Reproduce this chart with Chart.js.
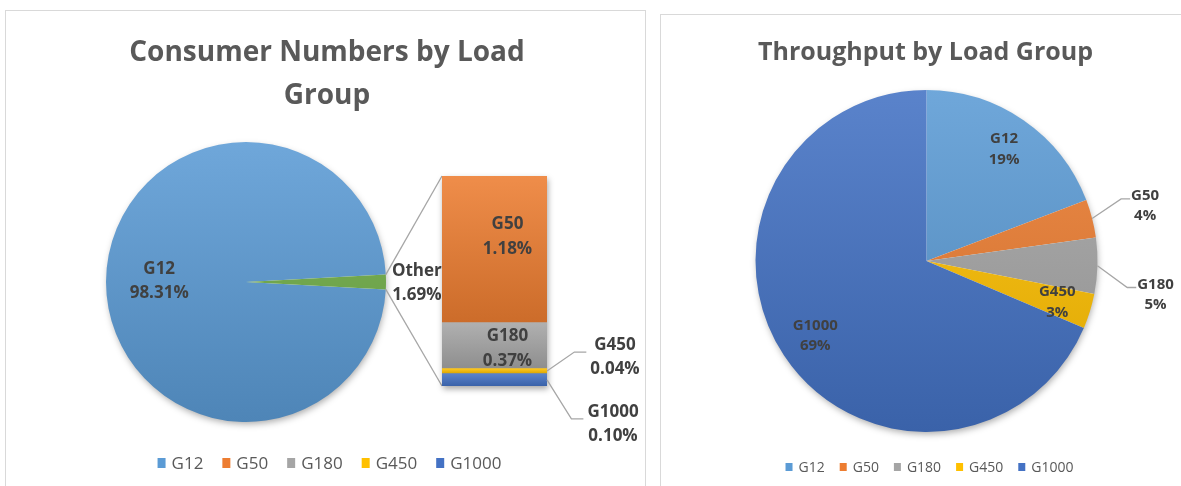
<!DOCTYPE html>
<html><head><meta charset="utf-8">
<script src="https://cdn.jsdelivr.net/npm/chart.js@4.4.1/dist/chart.umd.min.js"></script>
<style>
html,body{margin:0;padding:0;background:#fff;width:1181px;height:486px;overflow:hidden;position:relative;}
.panel{position:absolute;border:1px solid #d9d9d9;box-sizing:border-box;background:#fff;}
#leftPanel{left:5px;top:10px;width:641px;height:500px;}
#rightPanel{left:660px;top:14px;width:540px;height:500px;}
canvas{position:absolute;}
</style></head><body>
<div class="panel" id="leftPanel"></div>
<div class="panel" id="rightPanel"></div>
<canvas id="consumerPie" style="left:6px;top:11px" width="639" height="475"></canvas>
<canvas id="consumerBar" style="left:380px;top:150px" width="265" height="300"></canvas>
<canvas id="throughputPie" style="left:662px;top:16px" width="519" height="470"></canvas>
<script>
// ---------------- data ----------------
const loadGroups = ['G12', 'G50', 'G180', 'G450', 'G1000'];
const groupColors = ['#5B9BD5', '#ED7D31', '#A5A5A5', '#FFC000', '#4472C4'];
const otherLabel = 'Other';
const otherColor = '#70AD47';
const consumerShare = [98.31, 1.18, 0.37, 0.04, 0.10];   // % of consumers
const throughputShare = [19.2, 3.6, 5.3, 3.3, 68.6];     // % of throughput
const consumerTitle = ['Consumer Numbers by Load', 'Group'];
const throughputTitle = ['Throughput by Load Group'];

// ---------------- helpers ----------------
const FONT = '"Open Sans", "DejaVu Sans", sans-serif';
const LABEL_COLOR = '#404040';
const TITLE_COLOR = '#595959';
function shade(hex, amt) {
  const n = parseInt(hex.slice(1), 16);
  let r = n >> 16, g = (n >> 8) & 255, b = n & 255;
  if (amt >= 0) { r += (255 - r) * amt; g += (255 - g) * amt; b += (255 - b) * amt; }
  else { r *= 1 + amt; g *= 1 + amt; b *= 1 + amt; }
  return 'rgb(' + Math.round(r) + ',' + Math.round(g) + ',' + Math.round(b) + ')';
}
function vGrad(ctx, color, y0, y1) {
  const g = ctx.createLinearGradient(0, y0, 0, y1);
  g.addColorStop(0, shade(color, 0.12));
  g.addColorStop(1, shade(color, -0.14));
  return g;
}
function pieFill(c, color) {
  const ch = c.chart, a = ch.chartArea;
  if (!a) return color;
  const cy = (a.top + a.bottom) / 2, r = ch.options.radius;
  return vGrad(ch.ctx, color, cy - r, cy + r);
}
function drawLines(ctx, lines, cx, cy, size, lh, color) {
  ctx.save();
  ctx.font = 'bold ' + size + 'px ' + FONT;
  ctx.fillStyle = color; ctx.textAlign = 'center'; ctx.textBaseline = 'alphabetic';
  const cap = size * 0.714, n = lines.length;
  lines.forEach((t, i) => ctx.fillText(t, cx, cy + (i - (n - 1) / 2) * lh + cap / 2));
  ctx.restore();
}
function linesWidth(ctx, lines, size) {
  ctx.save(); ctx.font = 'bold ' + size + 'px ' + FONT;
  const w = Math.max(...lines.map(t => ctx.measureText(t).width));
  ctx.restore(); return w;
}
function leader(ctx, pts) {
  ctx.save(); ctx.strokeStyle = '#a6a6a6'; ctx.lineWidth = 1.3;
  ctx.beginPath(); ctx.moveTo(pts[0][0], pts[0][1]);
  for (let i = 1; i < pts.length; i++) ctx.lineTo(pts[i][0], pts[i][1]);
  ctx.stroke(); ctx.restore();
}
const pieShadow = {
  id: 'pieShadow',
  beforeDatasetsDraw(chart) {
    const arc = chart.getDatasetMeta(0).data[0]; const ctx = chart.ctx;
    ctx.save();
    ctx.shadowColor = 'rgba(0,0,0,0.35)'; ctx.shadowBlur = 7; ctx.shadowOffsetX = 1; ctx.shadowOffsetY = 3;
    ctx.beginPath(); ctx.arc(arc.x, arc.y, arc.outerRadius - 1, 0, Math.PI * 2);
    ctx.fillStyle = '#fff'; ctx.fill(); ctx.restore();
  }
};
function titlePlugin(lines, size, baseline, lh, dx) {
  return { id: 'ttl', afterDraw(chart) {
    const ctx = chart.ctx; ctx.save();
    ctx.font = 'bold ' + size + 'px ' + FONT; ctx.fillStyle = TITLE_COLOR;
    ctx.textAlign = 'center'; ctx.textBaseline = 'alphabetic';
    lines.forEach((t, i) => ctx.fillText(t, chart.width / 2 + dx, baseline + i * lh));
    ctx.restore();
  } };
}
function legendPlugin(names, colors, o) {
  return { id: 'lgd', afterDraw(chart) {
    const ctx = chart.ctx; ctx.save();
    ctx.font = o.size + 'px ' + FONT;
    const widths = names.map(t => ctx.measureText(t).width);
    const total = widths.reduce((s, w) => s + o.textOff + w, 0) + o.gap * (names.length - 1);
    let x = chart.width / 2 + o.dx - total / 2;
    ctx.textBaseline = 'alphabetic'; ctx.textAlign = 'left';
    names.forEach((t, i) => {
      ctx.fillStyle = colors[i];
      ctx.fillRect(x, o.y - o.bh / 2, o.bw, o.bh);
      ctx.fillStyle = TITLE_COLOR;
      ctx.fillText(t, x + o.textOff, o.y + o.size * 0.357);
      x += o.textOff + widths[i] + o.gap;
    });
    ctx.restore();
  } };
}
// place: {mode:'in'|'out'|'plain', r: radius factor, dx, dy}
function pieLabels(names, texts, places, size, lh) {
  return { id: 'plbl', afterDatasetsDraw(chart) {
    const ctx = chart.ctx;
    chart.getDatasetMeta(0).data.forEach((arc, i) => {
      const p = places[i], a = (arc.startAngle + arc.endAngle) / 2, R = arc.outerRadius;
      const cx = arc.x + Math.cos(a) * R * p.r + (p.dx || 0);
      const cy = arc.y + Math.sin(a) * R * p.r + (p.dy || 0);
      const lines = [names[i], texts[i]];
      if (p.mode === 'out') {
        const left = cx - linesWidth(ctx, lines, size) / 2;
        leader(ctx, [[arc.x + Math.cos(a) * R, arc.y + Math.sin(a) * R], [left - 10, cy - 6], [left - 1, cy - 6]]);
      }
      drawLines(ctx, lines, cx, cy, size, lh, LABEL_COLOR);
    });
  } };
}
const fmt2 = v => v.toFixed(2) + '%';
const fmt0 = v => Math.round(v) + '%';

// ---------------- left: pie of "Consumer Numbers" ----------------
const otherShares = consumerShare.slice(1);
const otherGroups = loadGroups.slice(1);
const otherColors = groupColors.slice(1);
const otherTotal = otherShares.reduce((s, v) => s + v, 0);
const pieMain = [consumerShare[0], otherTotal];
const pieMainNames = [loadGroups[0], otherLabel];
const pieMainColors = [groupColors[0], otherColor];
const pieSum = pieMain[0] + pieMain[1];
const leftRotation = 90 - (1 - (otherTotal / pieSum) / 2) * 360; // centre "Other" at 3 o'clock

const pieCanvas = document.getElementById('consumerPie');
const leftPie = new Chart(pieCanvas, {
  type: 'pie',
  data: { labels: pieMainNames, datasets: [{ data: pieMain, backgroundColor: c => pieFill(c, pieMainColors[c.dataIndex]), borderWidth: 0 }] },
  options: {
    responsive: false, animation: false, events: [], devicePixelRatio: 1,
    rotation: leftRotation, radius: 140,
    layout: { padding: { left: 100, right: 259, top: 131, bottom: 64 } },
    plugins: { legend: { display: false }, tooltip: { enabled: false }, title: { display: false } }
  },
  plugins: [pieShadow,
    pieLabels(pieMainNames, pieMain.map(fmt2), [{ mode: 'in', r: 0.62, dy: -2 }, { mode: 'plain', r: 1.22, dy: 0 }], 17, 23.5),
    titlePlugin(consumerTitle, 28, 49.5, 43, 1.5),
    legendPlugin(loadGroups, groupColors, { y: 452, size: 17, bw: 8, bh: 10, textOff: 14, gap: 19, dx: 4 })]
});

// ---------------- left: stacked bar breaking out "Other" ----------------
const stackOrder = otherGroups.map((g, i) => i).reverse(); // G1000 at bottom, G50 on top
const barPlaces = {
  G50: { mode: 'in', dx: 13, dy: -14 },
  G180: { mode: 'in', dx: 13, dy: 2 },
  G450: { mode: 'out', dx: 68, dy: -15 },
  G1000: { mode: 'out', dx: 66, dy: 43 }
};
function barFill(c, color) {
  const ch = c.chart, y = ch.scales.y;
  if (!y || !ch.chartArea) return color;
  let base = 0;
  for (let d = 0; d < c.datasetIndex; d++) base += ch.data.datasets[d].data[0];
  const v = ch.data.datasets[c.datasetIndex].data[0];
  return vGrad(ch.ctx, color, y.getPixelForValue(base + v), y.getPixelForValue(base));
}
const connectors = {
  id: 'connectors',
  beforeDatasetsDraw(chart) {
    const ctx = chart.ctx;
    const arc = leftPie.getDatasetMeta(0).data[1];
    const pr = pieCanvas.getBoundingClientRect(), br = chart.canvas.getBoundingClientRect();
    const ox = pr.left - br.left, oy = pr.top - br.top;
    const n = chart.data.datasets.length;
    const top = chart.getDatasetMeta(n - 1).data[0], bot = chart.getDatasetMeta(0).data[0];
    const R = arc.outerRadius;
    leader(ctx, [[arc.x + ox + R * Math.cos(arc.startAngle), arc.y + oy + R * Math.sin(arc.startAngle)], [top.x - top.width / 2, top.y]]);
    leader(ctx, [[arc.x + ox + R * Math.cos(arc.endAngle), arc.y + oy + R * Math.sin(arc.endAngle)], [bot.x - bot.width / 2, bot.base]]);
    // shadow under bar
    ctx.save();
    ctx.shadowColor = 'rgba(0,0,0,0.35)'; ctx.shadowBlur = 6; ctx.shadowOffsetX = 1; ctx.shadowOffsetY = 3;
    ctx.fillStyle = '#fff';
    ctx.fillRect(top.x - top.width / 2, top.y, top.width, bot.base - top.y);
    ctx.restore();
  }
};
const barLabels = {
  id: 'blbl',
  afterDatasetsDraw(chart) {
    const ctx = chart.ctx;
    chart.data.datasets.forEach((ds, d) => {
      const el = chart.getDatasetMeta(d).data[0];
      const p = barPlaces[ds.label];
      const segMid = (el.y + el.base) / 2, right = el.x + el.width / 2;
      const lines = [ds.label, fmt2(ds.data[0])];
      if (p.mode === 'in') {
        drawLines(ctx, lines, el.x + p.dx, segMid + p.dy, 17, 24.5, LABEL_COLOR);
      } else {
        const cx = right + p.dx, cy = segMid + p.dy;
        const left = cx - linesWidth(ctx, lines, 17) / 2;
        leader(ctx, [[right, segMid], [left - 16, cy - 4], [left - 4, cy - 4]]);
        drawLines(ctx, lines, cx, cy, 17, 23.5, LABEL_COLOR);
      }
    });
  }
};
new Chart(document.getElementById('consumerBar'), {
  type: 'bar',
  data: {
    labels: [otherLabel],
    datasets: stackOrder.map(i => ({
      label: otherGroups[i], data: [otherShares[i]],
      backgroundColor: c => barFill(c, otherColors[i]),
      borderWidth: 0, barPercentage: 1, categoryPercentage: 1
    }))
  },
  options: {
    responsive: false, animation: false, events: [], devicePixelRatio: 1,
    layout: { padding: { left: 62, right: 98, top: 26, bottom: 64 } },
    scales: { x: { display: false, stacked: true }, y: { display: false, stacked: true, min: 0, max: otherTotal } },
    plugins: { legend: { display: false }, tooltip: { enabled: false } }
  },
  plugins: [connectors, barLabels]
});

// ---------------- right: Throughput pie ----------------
new Chart(document.getElementById('throughputPie'), {
  type: 'pie',
  data: { labels: loadGroups, datasets: [{ data: throughputShare, backgroundColor: c => pieFill(c, groupColors[c.dataIndex]), borderWidth: 0 }] },
  options: {
    responsive: false, animation: false, events: [], devicePixelRatio: 1,
    rotation: 0, radius: 171,
    layout: { padding: { left: 93, right: 83, top: 74, bottom: 54 } },
    plugins: { legend: { display: false }, tooltip: { enabled: false }, title: { display: false } }
  },
  plugins: [pieShadow,
    pieLabels(loadGroups, throughputShare.map(fmt0),
      [{ mode: 'in', r: 0.8 }, { mode: 'out', r: 1.32 }, { mode: 'out', r: 1.34, dy: 26 }, { mode: 'in', r: 0.8 }, { mode: 'in', r: 0.78 }], 15, 20.5),
    titlePlugin(throughputTitle, 25, 44, 40, 4),
    legendPlugin(loadGroups, groupColors, { y: 451, size: 14, bw: 7, bh: 8, textOff: 13, gap: 15, dx: 8 })]
});
</script>
</body></html>
